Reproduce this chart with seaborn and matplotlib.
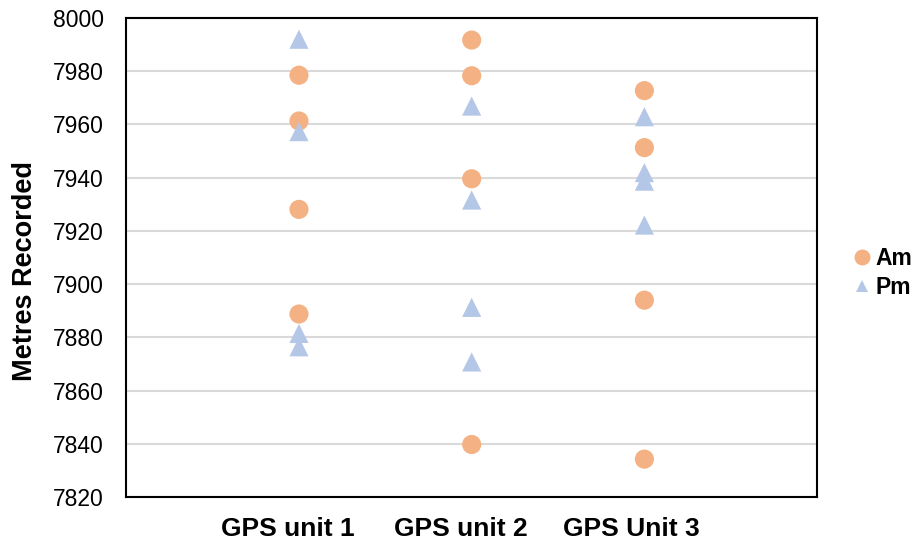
import pandas as pd
import seaborn as sns
import matplotlib.pyplot as plt

units = ["GPS unit 1", "GPS unit 2", "GPS Unit 3"]

# readings per unit, morning (Am) and afternoon (Pm)
am_unit1 = [7978.5, 7961.3, 7928.1, 7888.8]
am_unit2 = [7991.7, 7978.3, 7939.6, 7839.8]
am_unit3 = [7972.7, 7951.3, 7894.0, 7834.3]
pm_unit1 = [7992.0, 7957.3, 7881.5, 7876.5]
pm_unit2 = [7966.9, 7931.6, 7891.3, 7870.8]
pm_unit3 = [7962.9, 7941.9, 7938.7, 7922.2]

am = [am_unit1, am_unit2, am_unit3]
pm = [pm_unit1, pm_unit2, pm_unit3]

rows = []
for i, u in enumerate(units):
    for v in am[i]:
        rows.append({"unit": u, "pos": i + 1, "Metres": v, "Time": "Am"})
    for v in pm[i]:
        rows.append({"unit": u, "pos": i + 1, "Metres": v, "Time": "Pm"})
df = pd.DataFrame(rows)

sns.set_style("white")
plt.rcParams['font.family'] = ['Liberation Sans', 'DejaVu Sans']
plt.rcParams['text.color'] = 'black'
plt.rcParams['xtick.color'] = 'black'
plt.rcParams['ytick.color'] = 'black'
plt.rcParams['axes.labelcolor'] = 'black'

fig, ax = plt.subplots(figsize=(9.15, 5.44), dpi=100)
fig.subplots_adjust(left=0.138, right=0.893, top=0.967, bottom=0.086)

sns.scatterplot(data=df, x="pos", y="Metres", hue="Time", style="Time",
                palette={"Am": "#F4B183", "Pm": "#B4C7E7"},
                markers={"Am": "o", "Pm": "^"}, s=190, linewidth=0,
                alpha=1, ax=ax, zorder=3)

ax.set_xlim(0, 4)
ax.set_ylim(7820, 8000)
ax.set_yticks(range(7820, 8001, 20))
ax.yaxis.grid(True, color="#D9D9D9", linewidth=1.5)
ax.set_axisbelow(True)

# labels sit a little left of the point columns, like the original
label_shift = [-0.062, -0.061, -0.077]
ax.set_xticks([i + 1 + label_shift[i] for i in range(len(units))])
ax.set_xticklabels(units, fontsize=19, fontweight="bold")
ax.tick_params(axis="x", length=0, pad=14)
ax.tick_params(axis="y", length=0, pad=16, labelsize=16.5)

ax.set_xlabel("")
ax.set_ylabel("Metres Recorded", fontsize=19.5, fontweight="bold")
ax.yaxis.set_label_coords(-0.128, 0.471)

for side in ["left", "right", "top", "bottom"]:
    ax.spines[side].set_visible(True)
    ax.spines[side].set_color("black")
    ax.spines[side].set_linewidth(1.5)

sns.move_legend(ax, "center left", bbox_to_anchor=(1.049, 0.4687), frameon=False,
                title=None, prop={"weight": "bold", "size": 16.5},
                handlelength=1.0, handletextpad=0.05, labelspacing=0.26,
                borderaxespad=0, borderpad=0)

leg = ax.get_legend()
for h, ms in zip(leg.legend_handles, [11.5, 8.6]):
    if hasattr(h, "set_markersize"):
        h.set_markersize(ms)
    else:
        h.set_sizes([ms ** 2])

plt.savefig("out.png", dpi=100)
